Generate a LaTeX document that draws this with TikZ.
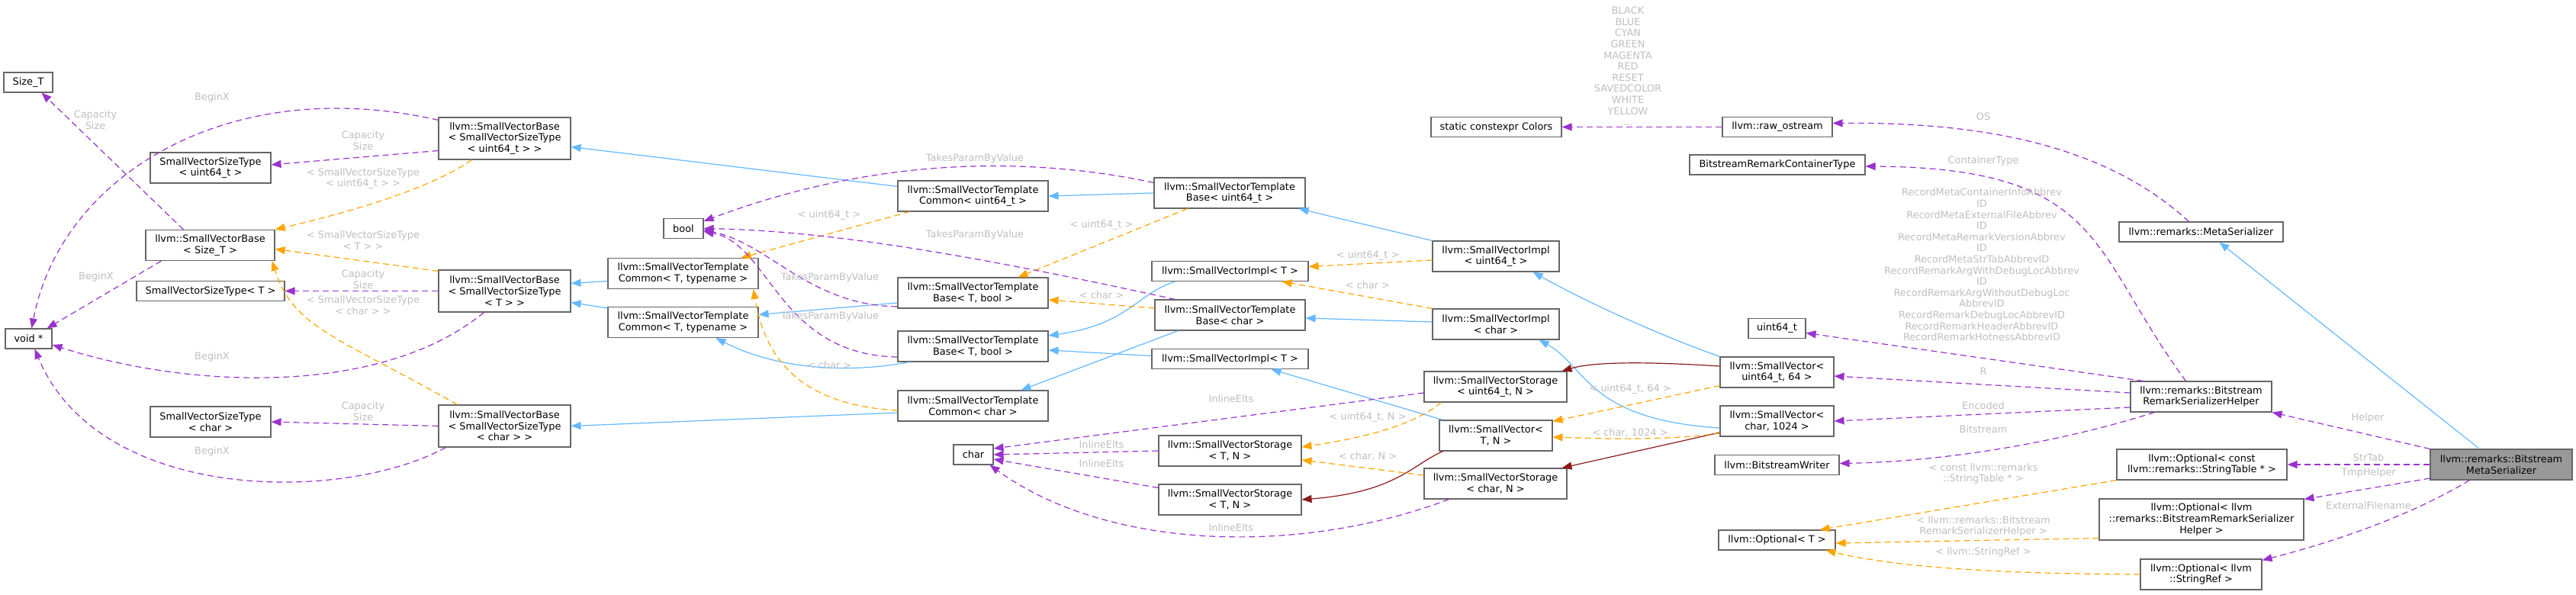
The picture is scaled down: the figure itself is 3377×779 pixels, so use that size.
\documentclass[tikz,border=0pt]{standalone}
\usepackage{fontspec}
\setmainfont{DejaVu Sans}
\usetikzlibrary{arrows.meta,calc}
\definecolor{usecol}{HTML}{9A32CD}
\definecolor{tplcol}{HTML}{FFA500}
\definecolor{pubcol}{HTML}{63B8FF}
\definecolor{privcol}{HTML}{8B1A1A}
\definecolor{boxcol}{HTML}{666666}
\definecolor{maincol}{HTML}{999999}
\definecolor{lblcol}{HTML}{BEBEBE}
\begin{document}
\begin{tikzpicture}[x=1pt, y=-1pt,
  cls/.style 2 args={draw=boxcol, line width=1.1pt, fill=white, inner sep=0pt, align=center,
    minimum width=#1, minimum height=#2, font=\fontsize{12.9}{14.6}\selectfont},
  mainbox/.style={fill=maincol},
  arr/.style={-{Triangle[length=13pt, width=10pt]}},
  uedge/.style={usecol, line width=1.2pt, dash pattern=on 8pt off 5pt, arr},
  tedge/.style={tplcol, line width=1.2pt, dash pattern=on 8pt off 5pt, arr},
  pedge/.style={pubcol, line width=1.2pt, arr},
  redge/.style={privcol, line width=1.2pt, arr},
  elbl/.style={lblcol, inner sep=0pt, align=center, font=\fontsize{12.9}{14.6}\selectfont}]

\useasboundingbox (0,0) rectangle (3377,779);

% classes
\node[cls={64}{26}]  (sizeT)  at (37,108)      {Size\_T};
\node[cls={61}{26}]  (voidp)  at (37.5,444)    {void *};
\node[cls={158}{40}] (svstU)  at (276,220)     {SmallVectorSizeType\\< uint64\_t >};
\node[cls={169}{40}] (svbS)   at (275.5,321.5) {llvm::SmallVectorBase\\< Size\_T >};
\node[cls={194}{26}] (svstT)  at (276,381.5)   {SmallVectorSizeType< T >};
\node[cls={158}{40}] (svstC)  at (276,553)     {SmallVectorSizeType\\< char >};
\node[cls={173}{55}] (svbU)   at (661.5,181.5) {llvm::SmallVectorBase\\< SmallVectorSizeType\\< uint64\_t > >};
\node[cls={173}{55}] (svbT)   at (661.5,381.5) {llvm::SmallVectorBase\\< SmallVectorSizeType\\< T > >};
\node[cls={173}{55}] (svbC)   at (661.5,558.5) {llvm::SmallVectorBase\\< SmallVectorSizeType\\< char > >};
\node[cls={52}{26}]  (boolN)  at (896,299.5)   {bool};
\node[cls={197}{40}] (tcT1)   at (895.5,358.5) {llvm::SmallVectorTemplate\\Common< T, typename >};
\node[cls={197}{40}] (tcT2)   at (895.5,422.5) {llvm::SmallVectorTemplate\\Common< T, typename >};
\node[cls={197}{40}] (tcU)    at (1275.5,257)  {llvm::SmallVectorTemplate\\Common< uint64\_t >};
\node[cls={197}{40}] (tbT1)   at (1275.5,384)  {llvm::SmallVectorTemplate\\Base< T, bool >};
\node[cls={197}{40}] (tbT2)   at (1275.5,454)  {llvm::SmallVectorTemplate\\Base< T, bool >};
\node[cls={197}{40}] (tcC)    at (1275.5,532)  {llvm::SmallVectorTemplate\\Common< char >};
\node[cls={52}{26}]  (charN)  at (1276,596)    {char};
\node[cls={198}{40}] (tbU)    at (1612,253)    {llvm::SmallVectorTemplate\\Base< uint64\_t >};
\node[cls={205}{26}] (implT1) at (1612.5,355.5) {llvm::SmallVectorImpl< T >};
\node[cls={197}{40}] (tbC)    at (1612.5,413)  {llvm::SmallVectorTemplate\\Base< char >};
\node[cls={205}{26}] (implT2) at (1612.5,470.5) {llvm::SmallVectorImpl< T >};
\node[cls={187}{40}] (storT1) at (1612.5,591)  {llvm::SmallVectorStorage\\< T, N >};
\node[cls={187}{40}] (storT2) at (1612.5,655)  {llvm::SmallVectorStorage\\< T, N >};
\node[cls={171}{26}] (colors) at (1961.5,166.5) {static constexpr Colors};
\node[cls={166}{40}] (implU)  at (1961,336)    {llvm::SmallVectorImpl\\< uint64\_t >};
\node[cls={166}{40}] (implC)  at (1961,425)    {llvm::SmallVectorImpl\\< char >};
\node[cls={187}{40}] (storU)  at (1960.5,507)  {llvm::SmallVectorStorage\\< uint64\_t, N >};
\node[cls={148}{40}] (svTN)   at (1961,571)    {llvm::SmallVector<\\T, N >};
\node[cls={187}{40}] (storC)  at (1960.5,634)  {llvm::SmallVectorStorage\\< char, N >};
\node[cls={144}{26}] (rawos)  at (2330,166.5)  {llvm::raw\_ostream};
\node[cls={230}{26}] (bsct)   at (2330,216)    {BitstreamRemarkContainerType};
\node[cls={75}{26}]  (u64)    at (2329.5,430.5) {uint64\_t};
\node[cls={149}{40}] (svU64)  at (2329.5,488)  {llvm::SmallVector<\\uint64\_t, 64 >};
\node[cls={149}{40}] (svC1024) at (2329.5,552) {llvm::SmallVector<\\char, 1024 >};
\node[cls={163}{26}] (bsw)    at (2329.5,609.5) {llvm::BitstreamWriter};
\node[cls={153}{26}] (optT)   at (2329.5,708)  {llvm::Optional< T >};
\node[cls={215}{26}] (metaSer) at (2885.5,304) {llvm::remarks::MetaSerializer};
\node[cls={185}{40}] (helper) at (2885.5,520)  {llvm::remarks::Bitstream\\RemarkSerializerHelper};
\node[cls={223}{40}] (optST)  at (2886.5,609)  {llvm::Optional< const\\llvm::remarks::StringTable * >};
\node[cls={268}{54}] (optH)   at (2886,681)    {llvm::Optional< llvm\\::remarks::BitstreamRemarkSerializer\\Helper >};
\node[cls={159}{40}] (optSR)  at (2885.5,753)  {llvm::Optional< llvm\\::StringRef >};
\node[cls={186}{40}, mainbox] (mainN) at (3279,609) {llvm::remarks::Bitstream\\MetaSerializer};

% public inheritance
\draw[pedge] ($(tcU.north west)+(0,8)$) -- ($(svbU.east)+(0,11)$);
\draw[pedge] ($(tcT1.west)+(0,10)$) -- ($(svbT.east)+(0,-10)$);
\draw[pedge] ($(tcT2.north west)+(0,2)$) -- ($(svbT.east)+(0,15)$);
\draw[pedge] ($(tcC.west)+(0,9)$) -- (svbC.east);
\draw[pedge] (tbU.west) -- (tcU.east);
\draw[pedge] (implU.north west) -- ($(tbU.south east)+(-9,0)$);
\draw[pedge] (svU64.north west) .. controls (2150,430) and (2060,385) .. ($(implU.south east)+(-35,0)$);
\draw[pedge] ($(tbT1.west)+(0,13)$) -- ($(tcT2.east)+(0,-10)$);
\draw[pedge] ($(tbT2.south west)+(16,0)$) .. controls (1100,492) and (1010,480) .. ($(tcT2.south west)+(142,0)$);
\draw[pedge] ($(implT1.south west)+(31,0)$) .. controls (1490,385) and (1480,425) .. ($(tbT2.east)+(0,-14)$);
\draw[pedge] ($(implT2.west)+(0,-4)$) -- ($(tbT2.east)+(0,5)$);
\draw[pedge] ($(tbC.south west)+(31,0)$) -- ($(tcC.north east)+(-36,0)$);
\draw[pedge] ($(implC.west)+(0,-3)$) -- ($(tbC.east)+(0,4)$);
\draw[pedge] ($(svC1024.west)+(0,9)$) .. controls (2080,550) and (2080,480) .. ($(implC.south east)+(-27,0)$);
\draw[pedge] ($(svTN.north west)+(5,0)$) -- ($(implT2.south west)+(157,0)$);
\draw[pedge] ($(mainN.north west)+(65,0)$) -- ($(metaSer.south west)+(132,0)$);

% private inheritance
\draw[redge] ($(svU64.west)+(0,-8)$) .. controls (2160,474) and (2090,474) .. ($(storU.north east)+(-7,0)$);
\draw[redge] ($(svC1024.west)+(0,15)$) -- ($(storC.north east)+(-7,0)$);
\draw[redge] ($(svTN.south west)+(5,0)$) .. controls (1850,610) and (1830,645) .. (storT2.east);

% template instances
\draw[tedge] ($(svbU.south west)+(44,0)$) .. controls (560,250) and (450,280) .. (svbS.north east);
\draw[tedge] ($(svbT.north west)+(0,2)$) -- ($(svbS.east)+(0,5)$);
\draw[tedge] ($(svbC.north west)+(25,0)$) .. controls (440,440) and (385,430) .. ($(svbS.south east)+(-4,0)$);
\draw[tedge] ($(tcU.south west)+(16,0)$) -- ($(tcT1.north east)+(-23,0)$);
\draw[tedge] ($(tcC.west)+(0,6)$) .. controls (1030,530) and (1000,450) .. ($(tcT1.south east)+(-7,0)$);
\draw[tedge] ($(tbU.south west)+(44,0)$) -- ($(tbT1.north east)+(-40,0)$);
\draw[tedge] ($(tbC.west)+(0,-9)$) -- ($(tbT1.east)+(0,9)$);
\draw[tedge] ($(implU.west)+(0,5)$) -- ($(implT1.east)+(0,-6)$);
\draw[tedge] (implC.north west) -- ($(implT1.south east)+(-35,0)$);
\draw[tedge] ($(storU.south west)+(23,0)$) .. controls (1850,560) and (1780,575) .. ($(storT1.east)+(0,-5)$);
\draw[tedge] ($(storC.west)+(0,-11)$) -- ($(storT1.east)+(0,12)$);
\draw[tedge] ($(svU64.south west)+(0,-3)$) -- ($(svTN.north east)+(0,2)$);
\draw[tedge] ($(svC1024.west)+(0,16)$) .. controls (2180,578) and (2100,575) .. ($(svTN.east)+(0,2)$);
\draw[tedge] (optST.south west) -- ($(optT.north east)+(-21,0)$);
\draw[tedge] ($(optH.south west)+(0,-3)$) -- ($(optT.east)+(0,4)$);
\draw[tedge] (optSR.west) .. controls (2600,752) and (2480,742) .. ($(optT.south east)+(-13,0)$);

% usage
\draw[uedge] ($(svbS.north west)+(50,0)$) -- ($(sizeT.south east)+(-15,0)$);
\draw[uedge] ($(svbS.south west)+(21,0)$) -- ($(voidp.north east)+(-7,0)$);
\draw[uedge] ($(svbU.north west)+(0,4)$) .. controls (300,95) and (80,230) .. ($(voidp.north west)+(35,0)$);
\draw[uedge] ($(svbU.west)+(0,16)$) -- ($(svstU.east)+(0,-4)$);
\draw[uedge] ($(svbT.south west)+(60,0)$) .. controls (500,520) and (250,510) .. ($(voidp.east)+(0,8)$);
\draw[uedge] ($(svbC.south west)+(10,0)$) .. controls (450,660) and (130,660) .. ($(voidp.south west)+(39,0)$);
\foreach \s/\t in {svbT.west/svstT.east, svbC.west/svstC.east, rawos.west/colors.east,
    storT1.west/charN.east, mainN.west/optST.east} {\draw[uedge] (\s) -- (\t);}
\draw[uedge] ($(tbU.north west)+(0,7)$) .. controls (1350,205) and (1150,205) .. ($(boolN.north east)+(0,4)$);
\draw[uedge] ($(tbC.north west)+(27,0)$) .. controls (1300,340) and (1100,303) .. (boolN.east);
\draw[uedge] ($(tbT1.west)+(0,18)$) .. controls (1060,400) and (1010,320) .. ($(boolN.east)+(0,2)$);
\draw[uedge] ($(tbT2.west)+(0,14)$) .. controls (1020,465) and (1010,320) .. ($(boolN.east)+(0,4)$);
\draw[uedge] ($(storU.west)+(0,8)$) -- ($(charN.east)+(0,-8)$);
\draw[uedge] ($(storT2.north west)+(0,5)$) -- ($(charN.east)+(0,6)$);
\draw[uedge] ($(storC.south west)+(33,0)$) .. controls (1700,730) and (1450,720) .. ($(charN.south east)+(-5,0)$);
\draw[uedge] ($(metaSer.north west)+(92,0)$) .. controls (2760,190) and (2600,160) .. ($(rawos.east)+(0,-5)$);
\draw[uedge] ($(helper.north west)+(73,0)$) .. controls (2740,330) and (2760,220) .. ($(bsct.east)+(0,2)$);
\draw[uedge] ($(helper.north west)+(17,0)$) -- ($(u64.east)+(0,6)$);
\draw[uedge] ($(helper.west)+(0,-5)$) -- ($(svU64.east)+(0,5)$);
\draw[uedge] ($(helper.west)+(0,14)$) -- (svC1024.east);
\draw[uedge] ($(helper.south west)+(32,0)$) .. controls (2700,580) and (2550,605) .. ($(bsw.east)+(0,-2)$);
\draw[uedge] (mainN.north west) -- (helper.south east);
\draw[uedge] ($(mainN.west)+(0,18)$) -- ($(optH.north east)+(0,1)$);
\draw[uedge] ($(mainN.south west)+(52,0)$) .. controls (3170,670) and (3080,705) .. ($(optSR.north east)+(0,2)$);

% edge labels
\node[elbl] (lCapS)   at (125,157) {Capacity\\Size};
\node[elbl] (lBegU)   at (278,128) {BeginX};
\node[elbl] (lCapU)   at (476,184) {Capacity\\Size};
\node[elbl] (lTplU)   at (476,234) {< SmallVectorSizeType\\< uint64\_t > >};
\node[elbl] (lTplT)   at (476,315) {< SmallVectorSizeType\\< T > >};
\node[elbl] (lBegS)   at (126,363) {BeginX};
\node[elbl] (lCapT)   at (476,366) {Capacity\\Size};
\node[elbl] (lTplC)   at (476,400) {< SmallVectorSizeType\\< char > >};
\node[elbl] (lBegT)   at (278,468) {BeginX};
\node[elbl] (lCapC)   at (476,539) {Capacity\\Size};
\node[elbl] (lBegC)   at (278,592) {BeginX};
\node[elbl] (lTcU)    at (1087,282) {< uint64\_t >};
\node[elbl] (lTpbT1)  at (1088,364) {TakesParamByValue};
\node[elbl] (lTpbT2)  at (1088,415) {TakesParamByValue};
\node[elbl] (lTcC)    at (1087,479) {< char >};
\node[elbl] (lTpbU)   at (1278,208) {TakesParamByValue};
\node[elbl] (lTbU)    at (1444,295) {< uint64\_t >};
\node[elbl] (lTpbC)   at (1278,308) {TakesParamByValue};
\node[elbl] (lTbC)    at (1444,387) {< char >};
\node[elbl] (lInlU)   at (1614,523) {InlineElts};
\node[elbl] (lInlT1)  at (1444,583) {InlineElts};
\node[elbl] (lInlT2)  at (1444,608) {InlineElts};
\node[elbl] (lInlC)   at (1614,692) {InlineElts};
\node[elbl] (lColors) at (2134,87) {BLACK\\BLUE\\CYAN\\GREEN\\MAGENTA\\RED\\RESET\\SAVEDCOLOR\\WHITE\\YELLOW\\...};
\node[elbl] (lImplU)  at (1793,335) {< uint64\_t >};
\node[elbl] (lImplC)  at (1793,374) {< char >};
\node[elbl] (lStorU)  at (1793,547) {< uint64\_t, N >};
\node[elbl] (lStorC)  at (1793,598) {< char, N >};
\node[elbl] (lSvU)    at (2137,510) {< uint64\_t, 64 >};
\node[elbl] (lSvC)    at (2137,567) {< char, 1024 >};
\node[elbl] (lOS)     at (2600,153) {OS};
\node[elbl] (lCont)   at (2600,211) {ContainerType};
\node[elbl] (lAbbrev) at (2598,347) {RecordMetaContainerInfoAbbrev\\ID\\RecordMetaExternalFileAbbrev\\ID\\RecordMetaRemarkVersionAbbrev\\ID\\RecordMetaStrTabAbbrevID\\RecordRemarkArgWithDebugLocAbbrev\\ID\\RecordRemarkArgWithoutDebugLoc\\AbbrevID\\RecordRemarkDebugLocAbbrevID\\RecordRemarkHeaderAbbrevID\\RecordRemarkHotnessAbbrevID};
\node[elbl] (lR)      at (2600,487) {R};
\node[elbl] (lEnc)    at (2600,532) {Encoded};
\node[elbl] (lBits)   at (2600,563) {Bitstream};
\node[elbl] (lOptST)  at (2600,621) {< const llvm::remarks\\::StringTable * >};
\node[elbl] (lOptH)   at (2600,690) {< llvm::remarks::Bitstream\\RemarkSerializerHelper >};
\node[elbl] (lOptSR)  at (2600,724) {< llvm::StringRef >};
\node[elbl] (lHelper) at (3104,548) {Helper};
\node[elbl] (lStrTab) at (3105,600) {StrTab};
\node[elbl] (lTmpH)   at (3105,620) {TmpHelper};
\node[elbl] (lExtF)   at (3105,663) {ExternalFilename};

\end{tikzpicture}
\end{document}
